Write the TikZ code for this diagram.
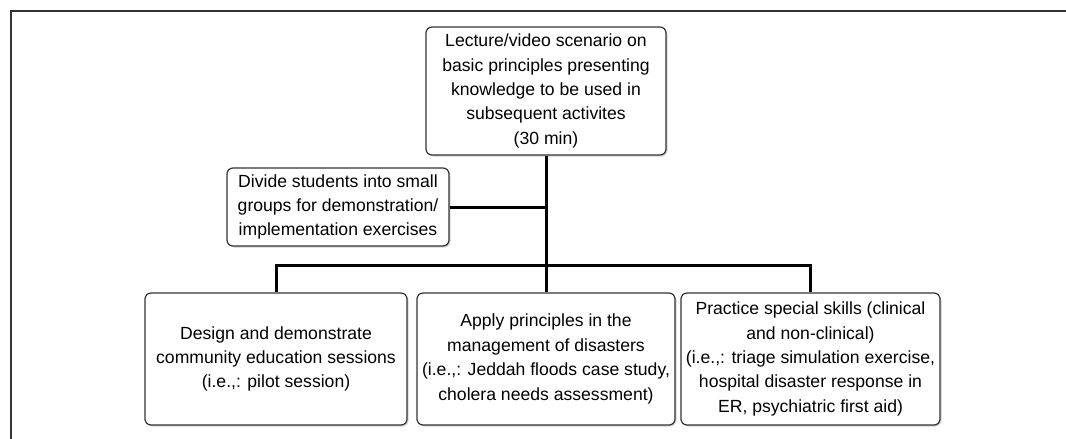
\documentclass[tikz,border=0pt]{standalone}
\usepackage{fontspec}
\setmainfont{Liberation Sans}
\usetikzlibrary{shadows}
\definecolor{boxline}{HTML}{333333}
\tikzset{
  box/.style={draw=boxline, line width=1.2pt, rounded corners=6pt, fill=white,
    align=center, inner sep=0pt, font=\fontsize{17.6}{24.4}\selectfont,
    drop shadow={opacity=0.35, shadow xshift=1.5pt, shadow yshift=-1.5pt}},
  conn/.style={line width=3pt, black},
}
\begin{document}
\begin{tikzpicture}[x=1pt,y=-1pt]
\useasboundingbox (0,0) rectangle (1066,439);
\draw[boxline, line width=2.6pt] (11,445) -- (11,11) -- (1072,11);

\node[box, minimum width=240pt, minimum height=128pt] (top) at (546,91)
  {Lecture/video scenario on\\basic principles presenting\\knowledge to be used in\\subsequent activites\\(30 min)};
\node[box, minimum width=222pt, minimum height=78pt] (divide) at (338,207)
  {Divide students into small\\groups for demonstration/\\implementation exercises};
\node[box, minimum width=262pt, minimum height=132pt] (b1) at (276,359)
  {Design and demonstrate\\community education sessions\\(i.e.,: pilot session)};
\node[box, minimum width=258pt, minimum height=132pt] (b2) at (546,359)
  {Apply principles in the\\management of disasters\\(i.e.,: Jeddah floods case study,\\cholera needs assessment)};
\node[box, minimum width=259pt, minimum height=132pt] (b3) at (810.5,359)
  {Practice special skills (clinical\\and non-clinical)\\(i.e.,: triage simulation exercise,\\hospital disaster response in\\ER, psychiatric first aid)};

\coordinate (bus) at (546,265);
\draw[conn] (top.south) -- (b2.north);
\draw[conn] (divide.east) -- (divide.east -| top.south);
\draw[conn] (b1.north) |- (bus) -| (b3.north);
\end{tikzpicture}
\end{document}
